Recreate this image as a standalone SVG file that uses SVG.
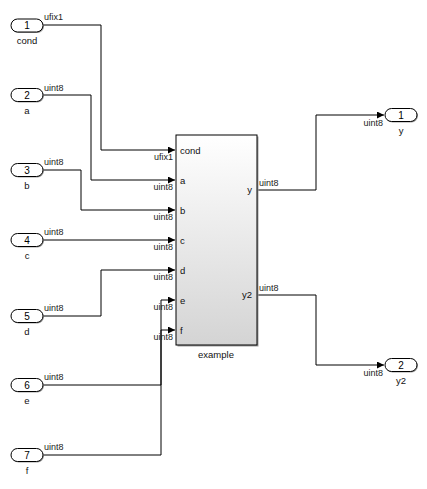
<svg xmlns="http://www.w3.org/2000/svg" width="427" height="489" viewBox="0 0 427 489">
<style>
.wire{fill:none;stroke:#000;stroke-width:1}
.sig{font-family:"Liberation Sans",Arial,sans-serif;font-size:9px;fill:#222}
.port{fill:#fff;stroke:#000;stroke-width:1}
.shadow{fill:#a0a0a0}
.num{font-family:"Liberation Sans",Arial,sans-serif;font-size:10px;fill:#000;text-anchor:middle}
.name{font-family:"Liberation Sans",Arial,sans-serif;font-size:9.5px;fill:#111;text-anchor:middle}
.plbl{font-family:"Liberation Sans",Arial,sans-serif;font-size:9.5px;fill:#111}
</style>
<defs>
<marker id="arr" markerUnits="userSpaceOnUse" markerWidth="8" markerHeight="8" refX="7" refY="3.5" orient="auto">
<path d="M0,0 L7,3.5 L0,7 z" fill="#000"/>
</marker>
<linearGradient id="bg" x1="0" y1="0" x2="0" y2="1">
<stop offset="0" stop-color="#ffffff"/>
<stop offset="1" stop-color="#d4d4d4"/>
</linearGradient>
</defs>

<g id="connectors">
<polyline class="wire" points="43,25 101,25 101,150 175,150" marker-end="url(#arr)"/>
<polyline class="wire" points="43,95 91,95 91,180 175,180" marker-end="url(#arr)"/>
<polyline class="wire" points="43,170 81,170 81,210 175,210" marker-end="url(#arr)"/>
<polyline class="wire" points="43,240 175,240" marker-end="url(#arr)"/>
<polyline class="wire" points="43,316 101,316 101,270 175,270" marker-end="url(#arr)"/>
<polyline class="wire" points="43,385 161,385 161,300 175,300" marker-end="url(#arr)"/>
<polyline class="wire" points="43,455 161,455 161,330 175,330" marker-end="url(#arr)"/>
<polyline class="wire" points="257,190 316,190 316,115 384,115" marker-end="url(#arr)"/>
<polyline class="wire" points="257,295 316,295 316,365 384,365" marker-end="url(#arr)"/>

<text class="sig" x="44" y="20">ufix1</text>
<text class="sig" x="44" y="91">uint8</text>
<text class="sig" x="44" y="165">uint8</text>
<text class="sig" x="44" y="235">uint8</text>
<text class="sig" x="44" y="311">uint8</text>
<text class="sig" x="44" y="380">uint8</text>
<text class="sig" x="44" y="450">uint8</text>

<text class="sig" x="173" y="160" text-anchor="end">ufix1</text>
<text class="sig" x="173" y="190" text-anchor="end">uint8</text>
<text class="sig" x="173" y="220" text-anchor="end">uint8</text>
<text class="sig" x="173" y="250" text-anchor="end">uint8</text>
<text class="sig" x="173" y="280" text-anchor="end">uint8</text>
<text class="sig" x="173" y="310" text-anchor="end">uint8</text>
<text class="sig" x="173" y="340" text-anchor="end">uint8</text>

<text class="sig" x="259" y="186">uint8</text>
<text class="sig" x="259" y="291">uint8</text>
<text class="sig" x="383" y="126" text-anchor="end">uint8</text>
<text class="sig" x="383" y="376" text-anchor="end">uint8</text>
</g>

<g id="in1">
<rect class="shadow" x="12" y="20" width="32" height="13" rx="6.5"/>
<rect class="port" x="11" y="19" width="32" height="13" rx="6.5"/>
<text class="num" x="27" y="29">1</text>
<text class="name" x="27" y="44">cond</text>
</g>
<g id="in2">
<rect class="shadow" x="12" y="89.5" width="32" height="13" rx="6.5"/>
<rect class="port" x="11" y="88.5" width="32" height="13" rx="6.5"/>
<text class="num" x="27" y="98.5">2</text>
<text class="name" x="27" y="114">a</text>
</g>
<g id="in3">
<rect class="shadow" x="12" y="164.5" width="32" height="13" rx="6.5"/>
<rect class="port" x="11" y="163.5" width="32" height="13" rx="6.5"/>
<text class="num" x="27" y="173.5">3</text>
<text class="name" x="27" y="189">b</text>
</g>
<g id="in4">
<rect class="shadow" x="12" y="234.5" width="32" height="13" rx="6.5"/>
<rect class="port" x="11" y="233.5" width="32" height="13" rx="6.5"/>
<text class="num" x="27" y="243.5">4</text>
<text class="name" x="27" y="259">c</text>
</g>
<g id="in5">
<rect class="shadow" x="12" y="310.5" width="32" height="13" rx="6.5"/>
<rect class="port" x="11" y="309.5" width="32" height="13" rx="6.5"/>
<text class="num" x="27" y="319.5">5</text>
<text class="name" x="27" y="335">d</text>
</g>
<g id="in6">
<rect class="shadow" x="12" y="379.5" width="32" height="13" rx="6.5"/>
<rect class="port" x="11" y="378.5" width="32" height="13" rx="6.5"/>
<text class="num" x="27" y="388.5">6</text>
<text class="name" x="27" y="404">e</text>
</g>
<g id="in7">
<rect class="shadow" x="12" y="449.5" width="32" height="13" rx="6.5"/>
<rect class="port" x="11" y="448.5" width="32" height="13" rx="6.5"/>
<text class="num" x="27" y="458.5">7</text>
<text class="name" x="27" y="474">f</text>
</g>

<g id="example">
<rect class="shadow" x="177.5" y="136.5" width="81" height="210"/>
<rect x="176" y="135" width="81" height="210" fill="url(#bg)" stroke="#000" stroke-width="1"/>
<text class="plbl" x="180" y="154">cond</text>
<text class="plbl" x="180" y="184">a</text>
<text class="plbl" x="180" y="214">b</text>
<text class="plbl" x="180" y="244">c</text>
<text class="plbl" x="180" y="274">d</text>
<text class="plbl" x="180" y="304">e</text>
<text class="plbl" x="180" y="334">f</text>
<text class="plbl" x="252" y="193" text-anchor="end">y</text>
<text class="plbl" x="252" y="298" text-anchor="end">y2</text>
<text class="name" x="216" y="358">example</text>
</g>

<g id="out1">
<rect class="shadow" x="386" y="109.5" width="32" height="13" rx="6.5"/>
<rect class="port" x="385" y="108.5" width="32" height="13" rx="6.5"/>
<text class="num" x="401" y="118.5">1</text>
<text class="name" x="401" y="134">y</text>
</g>
<g id="out2">
<rect class="shadow" x="386" y="359.5" width="32" height="13" rx="6.5"/>
<rect class="port" x="385" y="358.5" width="32" height="13" rx="6.5"/>
<text class="num" x="401" y="368.5">2</text>
<text class="name" x="401" y="384">y2</text>
</g>
</svg>
